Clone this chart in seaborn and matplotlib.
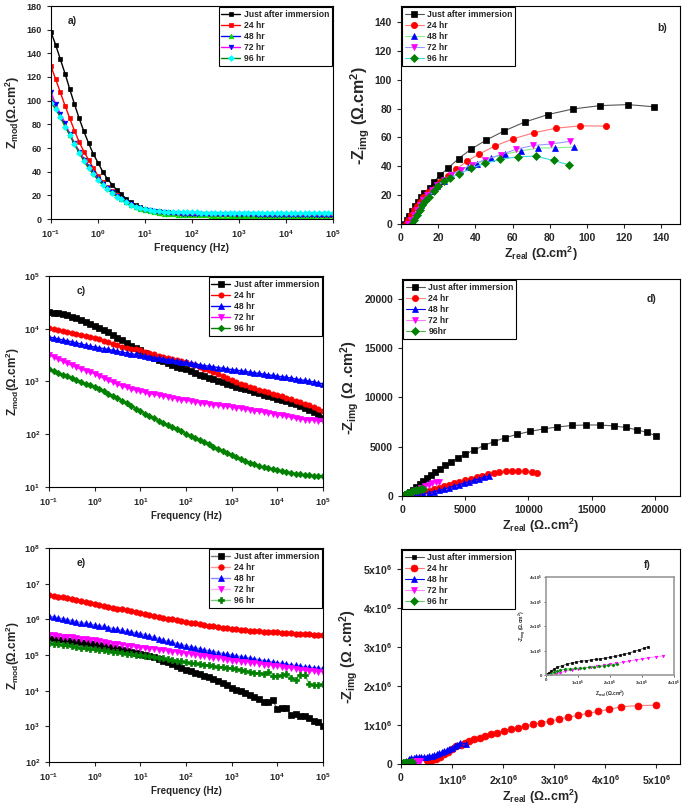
import matplotlib
matplotlib.use('Agg')
import matplotlib.pyplot as plt
import numpy as np
import seaborn as sns
from matplotlib.ticker import FuncFormatter, NullLocator

sns.set_theme(style='ticks')
plt.rcParams['font.family'] = ['Liberation Sans', 'DejaVu Sans']
plt.rcParams['font.weight'] = 'bold'
plt.rcParams['axes.labelweight'] = 'bold'
plt.rcParams['mathtext.fontset'] = 'custom'
plt.rcParams['mathtext.rm'] = 'Liberation Sans:bold'
plt.rcParams['mathtext.bf'] = 'Liberation Sans:bold'
plt.rcParams['mathtext.it'] = 'Liberation Sans:bold'
plt.rcParams['mathtext.default'] = 'bf'

labels = ['Just after immersion', '24 hr', '48 hr', '72 hr', '96 hr']
labels_d = ['Just after immersion', '24 hr', '48 hr', '72 hr', '96hr']

freq = [0.1, 0.126, 0.158, 0.2, 0.251, 0.316, 0.398, 0.501, 0.631, 0.794,
        1, 1.26, 1.58, 2, 2.51, 3.16, 3.98, 5.01, 6.31, 7.94,
        10, 12.6, 15.8, 20, 25.1, 31.6, 39.8, 50.1, 63.1, 79.4,
        100, 126, 158, 200, 251, 316, 398, 501, 631, 794,
        1000, 1260, 1580, 2000, 2510, 3160, 3980, 5010, 6310, 7940,
        10000, 12600, 15800, 20000, 25100, 31600, 39800, 50100, 63100, 79400,
        100000]
freq_ticks = [0.1, 1, 10, 100, 1000, 10000, 100000]

# panel a: |Z| (linear)
a_just = [158, 147, 135, 122.6, 109.6, 97, 85, 74, 64, 55,
          47.6, 40, 34, 29, 24.5, 21, 17, 14, 12, 10.4,
          8.7, 7.8, 7, 6.5, 6, 5.5, 5, 4.8, 4.6, 4.4,
          4.2, 4.1, 4, 4, 4, 3.9, 3.9, 3.9, 3.9, 3.8,
          3.8, 3.8, 3.8, 3.7, 3.7, 3.7, 3.7, 3.6, 3.6, 3.6,
          3.6, 3.6, 3.5, 3.5, 3.5, 3.5, 3.5, 3.4, 3.4, 3.4,
          3.4]
a_24 = [129, 118, 107, 95.5, 85, 74.6, 65, 57, 50, 43,
        36.6, 31.5, 27, 23.5, 20, 17, 14.5, 12.5, 10.5, 9.2,
        8, 7.2, 6.5, 6, 5.5, 5.2, 5, 4.8, 4.6, 4.4,
        4.3, 4.2, 4.1, 4.1, 4, 4, 4, 3.9, 3.9, 3.9,
        3.9, 3.9, 3.8, 3.8, 3.8, 3.8, 3.8, 3.7, 3.7, 3.7,
        3.7, 3.7, 3.7, 3.6, 3.6, 3.6, 3.6, 3.6, 3.6, 3.6,
        3.6]
a_48 = [103, 95, 87, 79, 71, 64, 57, 51, 45, 40,
        35, 30.5, 26.5, 23, 19.5, 16.5, 14, 12, 10, 8.7,
        7.5, 6.5, 5.5, 5, 4.5, 4.2, 4, 3.7, 3.5, 3.3,
        3.2, 3.1, 3, 3, 2.9, 2.9, 2.8, 2.8, 2.7, 2.7,
        2.6, 2.6, 2.5, 2.5, 2.5, 2.5, 2.4, 2.4, 2.4, 2.4,
        2.3, 2.3, 2.3, 2.2, 2.2, 2.2, 2.2, 2.1, 2.1, 2.1,
        2.1]
a_72 = [107, 97, 89, 81, 72, 64, 57, 50, 44, 38.6,
        34, 29.5, 26, 22.5, 19.5, 17, 14.5, 12.5, 10.5, 9.2,
        8, 7.2, 6.5, 6, 5.5, 5.2, 5, 4.8, 4.6, 4.5,
        4.4, 4.3, 4.2, 4.2, 4.1, 4.1, 4, 4, 4, 4,
        3.9, 3.9, 3.9, 3.9, 3.8, 3.8, 3.8, 3.8, 3.8, 3.8,
        3.7, 3.7, 3.7, 3.7, 3.7, 3.7, 3.6, 3.6, 3.6, 3.6,
        3.6]
a_96 = [98, 93, 86, 78, 71, 63, 56, 49, 43, 38,
        33, 29, 25, 22, 19, 16.5, 14, 12, 10.5, 9.5,
        8.5, 7.7, 7, 6.6, 6.3, 6.1, 6, 5.8, 5.7, 5.6,
        5.5, 5.5, 5.4, 5.4, 5.3, 5.3, 5.2, 5.2, 5.2, 5.1,
        5.1, 5.1, 5.1, 5, 5, 5, 5, 5, 5, 5,
        5, 5, 5, 4.9, 4.9, 4.9, 4.9, 4.9, 4.9, 4.9,
        4.9]

# panel b: Nyquist
b_just_x = [2, 3, 4.5, 6, 7.5, 9, 10.5, 12.5, 15.5, 17.5, 21, 25.5, 31, 37.5, 45.6, 55.5, 66.5, 79, 92.5, 107, 122, 136]
b_just_y = [0, 2.5, 5.5, 9, 12.5, 15.5, 18.5, 21.5, 24.7, 29, 33.8, 39, 45.3, 51.7, 58, 64.5, 70.6, 75.8, 79.7, 82, 82.7, 81.2]
b_24_x = [2.5, 4, 5.5, 7, 8.5, 10, 12, 14.5, 18, 21, 25, 29.8, 35.5, 42, 50.7, 60.4, 71.4, 83.6, 96.4, 110]
b_24_y = [0, 3, 6, 9.5, 12.5, 15.5, 19, 22, 24.4, 28.8, 33.2, 38, 43.6, 48.4, 54.2, 59, 63.2, 66.4, 68, 67.8]
b_48_x = [5, 6, 7.5, 9, 10.5, 12, 14, 16.5, 19.5, 23, 27, 31.5, 36, 40.9, 48.2, 56, 64.5, 73.5, 83, 92.9]
b_48_y = [0, 3, 6.5, 10, 13, 16, 19.5, 23, 26.5, 30, 34, 37.5, 39.5, 41.7, 45.7, 48.4, 50.7, 52.5, 52.8, 53.3]
b_72_x = [4, 5.5, 7, 8.5, 10, 12, 14, 16.5, 19.5, 23, 27, 32, 38, 45, 53.6, 61.8, 71, 80.5, 90.7]
b_72_y = [0, 3, 6.5, 10, 13, 16.5, 20, 23.5, 27, 30.5, 34, 37.5, 41, 44.5, 48, 51.7, 54.4, 55.4, 57.2]
b_96_x = [6, 7, 8.5, 10, 11.5, 13, 15, 17.5, 20, 23, 26.5, 31.2, 37.7, 45, 53.2, 62.7, 72.5, 82, 90.2]
b_96_y = [0, 3, 6.5, 9.5, 13, 16, 19, 23, 26.5, 30, 32, 34.8, 38.5, 42, 44.7, 46.6, 47, 44, 41]

# panel c: |Z| (log)
c_just = [21000, 20300, 19500, 18800, 18000, 17000, 16000, 14800, 13500, 12500,
          11500, 10500, 9500, 8600, 7700, 6800, 6000, 5400, 4800, 4300,
          3900, 3500, 3100, 2850, 2600, 2400, 2200, 2050, 1900, 1800,
          1700, 1570, 1450, 1350, 1250, 1170, 1100, 1030, 960, 900,
          850, 800, 760, 720, 680, 640, 600, 565, 530, 500,
          470, 445, 420, 395, 370, 345, 320, 290, 260, 230,
          200]
c_24 = [10300, 9900, 9500, 9150, 8800, 8450, 8100, 7750, 7400, 7050,
        6700, 6300, 5900, 5550, 5200, 4900, 4600, 4400, 4200, 4050,
        3900, 3700, 3500, 3300, 3100, 2950, 2800, 2670, 2550, 2420,
        2300, 2180, 2050, 1900, 1750, 1620, 1500, 1370, 1250, 1150,
        1050, 970, 900, 840, 780, 740, 700, 660, 620, 590,
        560, 525, 490, 460, 430, 405, 380, 355, 330, 305,
        280]
c_48 = [7000, 6700, 6400, 6150, 5900, 5650, 5400, 5150, 4900, 4700,
        4500, 4350, 4200, 4050, 3900, 3750, 3600, 3470, 3350, 3250,
        3150, 3050, 2950, 2850, 2750, 2670, 2600, 2520, 2450, 2370,
        2300, 2220, 2150, 2070, 2000, 1950, 1900, 1840, 1780, 1730,
        1680, 1640, 1600, 1550, 1500, 1460, 1420, 1380, 1340, 1300,
        1260, 1230, 1200, 1160, 1120, 1080, 1050, 1010, 980, 940,
        900]
c_72 = [3200, 2900, 2650, 2420, 2200, 2020, 1850, 1720, 1600, 1500,
        1400, 1270, 1150, 1050, 960, 890, 820, 770, 720, 685,
        650, 620, 590, 570, 550, 530, 510, 490, 470, 455,
        440, 425, 410, 397, 385, 375, 365, 355, 345, 337,
        330, 320, 310, 300, 290, 280, 270, 262, 255, 245,
        236, 228, 220, 210, 200, 195, 190, 187, 185, 182,
        180]
c_96 = [1700, 1570, 1450, 1350, 1250, 1150, 1050, 970, 900, 840,
        790, 720, 650, 590, 530, 480, 430, 385, 340, 305,
        270, 245, 220, 200, 180, 165, 150, 137, 125, 113,
        102, 93, 85, 77, 70, 64, 58, 53, 48, 44,
        41, 37.5, 34, 31.5, 29, 27, 25, 23.5, 22.5, 21.5,
        21, 20.2, 19.5, 18.7, 18, 17.5, 17, 16.7, 16.5, 16.2,
        16]

# panel d: Nyquist
d_just_x = [200, 400, 600, 850, 1100, 1400, 1700, 2000, 2300, 2600, 3000, 3400, 3900, 4400, 5000, 5700,
            6450, 7250, 8150, 9100, 10150, 11200, 12300, 13450, 14550, 15700, 16750, 17700, 18600, 19400, 20100]
d_just_y = [80, 220, 420, 650, 900, 1200, 1500, 1800, 2100, 2400, 2750, 3100, 3450, 3850, 4250, 4650,
            5100, 5500, 5900, 6250, 6550, 6800, 7000, 7150, 7200, 7200, 7100, 6950, 6700, 6450, 6100]
d_24_x = [200, 500, 900, 1300, 1700, 2100, 2500, 2900, 3300, 3700, 4100, 4550, 5000, 5450, 5900, 6350,
          6800, 7250, 7700, 8200, 8700, 9200, 9750, 10250, 10650]
d_24_y = [20, 80, 170, 280, 400, 550, 700, 850, 1000, 1150, 1300, 1450, 1600, 1750, 1900, 2050,
          2200, 2300, 2400, 2500, 2550, 2550, 2500, 2400, 2300]
d_48_x = [200, 500, 900, 1300, 1700, 2100, 2500, 2900, 3300, 3700, 4100, 4500, 4900, 5300, 5700, 6100, 6500, 6900]
d_48_y = [10, 30, 80, 150, 230, 330, 440, 560, 700, 850, 1000, 1150, 1300, 1450, 1600, 1750, 1900, 2000]
d_72_x = [150, 350, 600, 900, 1200, 1500, 1800, 2100, 2400, 2700, 2950]
d_72_y = [30, 120, 250, 420, 600, 800, 1000, 1150, 1300, 1400, 1450]
d_96_x = [100, 200, 350, 500, 700, 900, 1100, 1300, 1500, 1700]
d_96_y = [30, 100, 200, 300, 400, 490, 570, 640, 700, 750]

# panel e: |Z| (log)
e_just = [3.2e5, 3.05e5, 2.9e5, 2.75e5, 2.6e5, 2.5e5, 2.4e5, 2.3e5, 2.2e5, 2.12e5,
          2.05e5, 1.92e5, 1.8e5, 1.7e5, 1.6e5, 1.5e5, 1.4e5, 1.32e5, 1.25e5, 1.17e5,
          1.1e5, 1.02e5, 9.5e4, 8.6e4, 7.8e4, 7e4, 6.3e4, 5.6e4, 5e4, 4.4e4,
          3.8e4, 3.5e4, 3.2e4, 2.9e4, 2.6e4, 2.35e4, 2.1e4, 1.85e4, 1.6e4, 1.4e4,
          1.2e4, 1.07e4, 9500, 8500, 7500, 6600, 5800, 4900, 4800, 5500,
          3000, 3300, 3200, 2100, 2200, 2000, 1900, 1700, 1400, 1300,
          1000]
e_24 = [4.8e6, 4.55e6, 4.3e6, 4.1e6, 3.9e6, 3.65e6, 3.4e6, 3.2e6, 3.0e6, 2.8e6,
        2.65e6, 2.5e6, 2.35e6, 2.22e6, 2.1e6, 2e6, 1.9e6, 1.8e6, 1.7e6, 1.62e6,
        1.55e6, 1.45e6, 1.35e6, 1.27e6, 1.2e6, 1.12e6, 1.05e6, 1e6, 9.5e5, 9e5,
        8.5e5, 8.1e5, 7.7e5, 7.3e5, 7e5, 6.7e5, 6.4e5, 6.1e5, 5.9e5, 5.7e5,
        5.5e5, 5.3e5, 5.1e5, 4.95e5, 4.8e5, 4.7e5, 4.6e5, 4.5e5, 4.4e5, 4.35e5,
        4.3e5, 4.2e5, 4.1e5, 4.05e5, 4.0e5, 3.95e5, 3.9e5, 3.8e5, 3.7e5, 3.65e5,
        3.6e5]
e_48 = [1.25e6, 1.17e6, 1.1e6, 1.04e6, 9.8e5, 9.2e5, 8.6e5, 8.1e5, 7.7e5, 7.3e5,
        7e5, 6.6e5, 6.3e5, 5.9e5, 5.5e5, 5.2e5, 4.9e5, 4.6e5, 4.4e5, 4.2e5,
        4e5, 3.7e5, 3.4e5, 3.15e5, 2.9e5, 2.65e5, 2.4e5, 2.25e5, 2.1e5, 1.95e5,
        1.8e5, 1.7e5, 1.6e5, 1.5e5, 1.4e5, 1.32e5, 1.25e5, 1.17e5, 1.1e5, 1.05e5,
        1e5, 9.5e4, 9e4, 8.6e4, 8.2e4, 7.8e4, 7.4e4, 7e4, 6.7e4, 6.4e4,
        6.1e4, 5.8e4, 5.6e4, 5.3e4, 5.1e4, 4.9e4, 4.7e4, 4.55e4, 4.4e4, 4.3e4,
        4.2e4]
e_72 = [3.7e5, 3.55e5, 3.4e5, 3.3e5, 3.2e5, 3.1e5, 3e5, 2.9e5, 2.8e5, 2.7e5,
        2.6e5, 2.47e5, 2.35e5, 2.22e5, 2.1e5, 2e5, 1.9e5, 1.82e5, 1.75e5, 1.67e5,
        1.6e5, 1.55e5, 1.5e5, 1.45e5, 1.4e5, 1.35e5, 1.3e5, 1.25e5, 1.2e5, 1.15e5,
        1.1e5, 1.05e5, 1e5, 9.6e4, 9.2e4, 8.8e4, 8.4e4, 8e4, 7.7e4, 7.3e4,
        7e4, 6.7e4, 6.5e4, 6.2e4, 6e4, 5.8e4, 5.6e4, 5.4e4, 5.2e4, 5e4,
        4.8e4, 4.6e4, 4.4e4, 4.2e4, 4.1e4, 3.9e4, 3.8e4, 3.6e4, 3.5e4, 3.4e4,
        3.3e4]
e_96 = [2.2e5, 2.1e5, 2e5, 1.92e5, 1.85e5, 1.77e5, 1.7e5, 1.62e5, 1.55e5, 1.5e5,
        1.45e5, 1.4e5, 1.35e5, 1.3e5, 1.25e5, 1.2e5, 1.15e5, 1.1e5, 1.07e5, 1.03e5,
        1e5, 9.6e4, 9.2e4, 8.8e4, 8.5e4, 8.1e4, 7.7e4, 7.3e4, 7e4, 6.6e4,
        6.3e4, 6e4, 5.8e4, 5.5e4, 5.3e4, 5.1e4, 4.9e4, 4.7e4, 4.5e4, 4.35e4,
        4.2e4, 4e4, 3.8e4, 3.6e4, 3.4e4, 3.2e4, 3.1e4, 3e4, 3.3e4, 2.5e4,
        2.5e4, 2.7e4, 2.9e4, 2.2e4, 2e4, 2.8e4, 2.8e4, 1.5e4, 1.4e4, 1.45e4,
        1.5e4]

# panel f: Nyquist (x1e6) and inset (x1e5)
f_24_x = [0.5, 0.53, 0.6, 0.68, 0.76, 0.84, 0.92, 1.0, 1.08, 1.17, 1.25, 1.34, 1.44, 1.54, 1.65, 1.76, 1.88,
          2.01, 2.15, 2.29, 2.44, 2.59, 2.75, 2.92, 3.1, 3.28, 3.47, 3.67, 3.86, 4.07, 4.32, 4.65, 5.0]
f_24_y = [0.09, 0.08, 0.1, 0.13, 0.18, 0.25, 0.32, 0.39, 0.45, 0.5, 0.55, 0.59, 0.63, 0.67, 0.71, 0.76, 0.8,
          0.85, 0.89, 0.93, 0.97, 1.02, 1.06, 1.1, 1.15, 1.2, 1.25, 1.3, 1.35, 1.4, 1.47, 1.5, 1.51]
f_48_x = [0.05, 0.1, 0.15, 0.2, 0.25, 0.3, 0.35, 0.4, 0.45, 0.5, 0.55, 0.6, 0.65, 0.7, 0.75, 0.8, 0.85, 0.9,
          0.95, 1.0, 1.05, 1.1, 1.15, 1.27]
f_48_y = [0.03, 0.08, 0.12, 0.15, 0.16, 0.17, 0.175, 0.18, 0.185, 0.19, 0.2, 0.21, 0.23, 0.25, 0.27, 0.3, 0.33,
          0.36, 0.39, 0.42, 0.46, 0.5, 0.55, 0.52]
f_just_x = [0.03, 0.08, 0.15, 0.25, 0.35, 0.5, 0.65, 0.8, 0.95, 1.1, 1.25, 1.4, 1.55, 1.7, 1.85, 2.0, 2.15,
            2.3, 2.45, 2.6, 2.75, 2.9, 3.05, 3.2]
f_just_y = [0.03, 0.08, 0.15, 0.24, 0.31, 0.38, 0.44, 0.49, 0.53, 0.56, 0.59, 0.61, 0.64, 0.66, 0.69, 0.72,
            0.76, 0.8, 0.85, 0.9, 0.96, 1.02, 1.09, 1.16]
f_72_x = [0.3, 0.45, 0.6, 0.8, 1.0, 1.2, 1.4, 1.6, 1.8, 2.0, 2.2, 2.4, 2.6, 2.8, 3.0, 3.2, 3.45, 3.66]
f_72_y = [0.04, 0.1, 0.16, 0.22, 0.26, 0.29, 0.32, 0.35, 0.39, 0.43, 0.47, 0.52, 0.57, 0.62, 0.66, 0.7, 0.75, 0.78]
f_96_x = [0.15, 0.25, 0.35, 0.45, 0.6, 0.75, 0.9, 1.05, 1.2, 1.35, 1.5, 1.65, 1.8, 1.95, 2.1, 2.22]
f_96_y = [0.05, 0.12, 0.17, 0.21, 0.24, 0.26, 0.27, 0.28, 0.3, 0.31, 0.33, 0.35, 0.37, 0.39, 0.41, 0.43]


def draw(ax, x, y, line, mcol, marker, ms, lab=None, lw=1.0):
    sns.lineplot(x=x, y=y, ax=ax, sort=False, estimator=None, color=line, linewidth=lw,
                 marker=marker, markersize=ms, markerfacecolor=mcol, markeredgecolor=mcol,
                 markeredgewidth=0.5, label=lab, legend=False)


def style(ax, tick_size):
    ax.tick_params(axis='both', which='major', direction='out', length=3, width=0.8,
                   labelsize=tick_size, top=False, right=False)
    ax.tick_params(which='minor', length=0)
    for s in ax.spines.values():
        s.set_color('black')
        s.set_linewidth(0.8)


def legend(ax, loc, fs=6.2):
    leg = ax.legend(loc=loc, fontsize=fs, frameon=True, fancybox=False, edgecolor='black',
                    framealpha=1, borderpad=0.3, labelspacing=0.25, handlelength=2.2,
                    handletextpad=0.4, borderaxespad=0.15)
    leg.get_frame().set_linewidth(0.8)
    for t in leg.get_texts():
        t.set_fontweight('bold')


def sci(v, pos):
    if v == 0:
        return '0'
    p = int(np.floor(np.log10(abs(v))))
    return r'$%dx10^{%d}$' % (round(v / 10 ** p), p)


def log_axes(ax, yticks=None):
    ax.set_xscale('log')
    ax.set_xlim(0.1, 1e5)
    ax.set_xticks(freq_ticks)
    ax.xaxis.set_minor_locator(NullLocator())
    if yticks is not None:
        ax.set_yscale('log')
        ax.set_ylim(yticks[0], yticks[-1])
        ax.set_yticks(yticks)
        ax.yaxis.set_minor_locator(NullLocator())


fig = plt.figure(figsize=(6.85, 8.05), dpi=100)
W, H = 685, 805


def box(l, t, r, b):
    return [l / W, 1 - b / H, (r - l) / W, (b - t) / H]


zlabel = r'Z$_{mod}$($\Omega$.cm$^2$)'

# ---- a)
ax = fig.add_axes(box(51, 6, 333, 219))
draw(ax, freq, a_just, 'black', 'black', 's', 3, labels[0])
draw(ax, freq, a_24, 'red', 'red', 's', 3, labels[1])
draw(ax, freq, a_48, 'blue', '#00dd00', '^', 3.3, labels[2])
draw(ax, freq, a_72, 'magenta', 'blue', 'v', 3.3, labels[3])
draw(ax, freq, a_96, 'green', 'cyan', 'D', 3, labels[4])
log_axes(ax)
ax.set_ylim(0, 180)
ax.set_yticks(range(0, 181, 20))
style(ax, 6.5)
ax.set_xlabel('Frequency (Hz)', fontsize=7.5, labelpad=2)
ax.set_ylabel(zlabel, fontsize=9)
ax.yaxis.set_label_coords(-0.104, 0.5)
ax.text(0.06, 0.93, 'a)', transform=ax.transAxes, fontsize=7.5, fontweight='bold', va='center')
legend(ax, 'upper right')

# ---- b)
ax = fig.add_axes(box(401, 6, 680, 224))
draw(ax, b_just_x, b_just_y, '#555555', 'black', 's', 4, labels[0], 0.8)
draw(ax, b_24_x, b_24_y, '#ff7777', 'red', 'o', 4.5, labels[1], 0.8)
draw(ax, b_48_x, b_48_y, '#88ee88', 'blue', '^', 4.5, labels[2], 0.8)
draw(ax, b_72_x, b_72_y, '#9999ff', 'magenta', 'v', 4.5, labels[3], 0.8)
draw(ax, b_96_x, b_96_y, '#33dddd', 'green', 'D', 4, labels[4], 0.8)
ax.set_xlim(0, 150)
ax.set_ylim(0, 151)
ax.set_xticks(range(0, 141, 20))
ax.set_yticks(range(0, 141, 20))
style(ax, 7.5)
ax.set_xlabel(r'Z$_{real}$ ($\Omega$.cm$^2$)', fontsize=9, labelpad=1)
ax.set_ylabel(r'-Z$_{img}$ ($\Omega$.cm$^2$)', fontsize=11.5, labelpad=2)
ax.text(0.92, 0.9, 'b)', transform=ax.transAxes, fontsize=7.5, fontweight='bold', va='center')
legend(ax, 'upper left')

# ---- c)
ax = fig.add_axes(box(49, 276, 323, 487))
draw(ax, freq, c_just, 'black', 'black', 's', 3.8, labels[0])
draw(ax, freq, c_24, 'red', 'red', 'o', 3.8, labels[1])
draw(ax, freq, c_48, 'blue', 'blue', '^', 3.8, labels[2])
draw(ax, freq, c_72, 'magenta', 'magenta', 'v', 3.8, labels[3])
draw(ax, freq, c_96, 'green', 'green', 'D', 3.3, labels[4])
log_axes(ax, [10, 100, 1000, 10000, 100000])
style(ax, 6.5)
ax.set_xlabel('Frequency (Hz)', fontsize=7, labelpad=2)
ax.set_ylabel(zlabel, fontsize=8.5)
ax.yaxis.set_label_coords(-0.1, 0.5)
ax.text(0.1, 0.93, 'c)', transform=ax.transAxes, fontsize=7.5, fontweight='bold', va='center')
legend(ax, 'upper right')

# ---- d)
ax = fig.add_axes(box(402, 279, 680, 496))
draw(ax, d_just_x, d_just_y, '#555555', 'black', 's', 4, labels_d[0], 0.8)
draw(ax, d_24_x, d_24_y, '#ff8888', 'red', 'o', 4.5, labels_d[1], 0.8)
draw(ax, d_48_x, d_48_y, 'blue', 'blue', '^', 4.5, labels_d[2], 0.8)
draw(ax, d_72_x, d_72_y, '#ff77ff', 'magenta', 'v', 4.5, labels_d[3], 0.8)
draw(ax, d_96_x, d_96_y, '#55bb55', 'green', 'D', 4, labels_d[4], 0.8)
ax.set_xlim(0, 22000)
ax.set_ylim(0, 22000)
ax.set_xticks(range(0, 20001, 5000))
ax.set_yticks(range(0, 20001, 5000))
style(ax, 7.5)
ax.set_xlabel(r'Z$_{real}$ ($\Omega$..cm$^2$)', fontsize=9, labelpad=1)
ax.set_ylabel(r'-Z$_{img}$ ($\Omega$ .cm$^2$)', fontsize=10.5, labelpad=2)
ax.text(0.88, 0.91, 'd)', transform=ax.transAxes, fontsize=7.5, fontweight='bold', va='center')
legend(ax, 'upper left')

# ---- e)
ax = fig.add_axes(box(49, 548, 323, 762))
draw(ax, freq, e_just, '#777777', 'black', 's', 4, labels[0])
draw(ax, freq, e_24, '#ff9999', 'red', 'o', 4, labels[1])
draw(ax, freq, e_48, '#8888ff', 'blue', '^', 4, labels[2])
draw(ax, freq, e_72, '#ffaaff', 'magenta', 'v', 4, labels[3])
draw(ax, freq, e_96, '#77cc77', 'green', 'P', 4, labels[4])
log_axes(ax, [1e2, 1e3, 1e4, 1e5, 1e6, 1e7, 1e8])
style(ax, 6.5)
ax.set_xlabel('Frequency (Hz)', fontsize=7, labelpad=2)
ax.set_ylabel(zlabel, fontsize=8.5)
ax.yaxis.set_label_coords(-0.1, 0.5)
ax.text(0.1, 0.93, 'e)', transform=ax.transAxes, fontsize=7.5, fontweight='bold', va='center')
legend(ax, 'upper right')

# ---- f)
ax = fig.add_axes(box(401, 549, 680, 764))
fj_x, fj_y = np.array(f_just_x) * 1e5, np.array(f_just_y) * 1e5
f72_x, f72_y = np.array(f_72_x) * 1e5, np.array(f_72_y) * 1e5
f96_x, f96_y = np.array(f_96_x) * 1e5, np.array(f_96_y) * 1e5
draw(ax, fj_x, fj_y, '#555555', 'black', 's', 3.5, labels[0], 0.8)
draw(ax, np.array(f_24_x) * 1e6, np.array(f_24_y) * 1e6, '#ff7777', 'red', 'o', 5, labels[1], 0.8)
draw(ax, np.array(f_48_x) * 1e6, np.array(f_48_y) * 1e6, 'blue', 'blue', '^', 4.5, labels[2], 0.8)
draw(ax, f72_x, f72_y, '#ff88ff', 'magenta', 'v', 4.5, labels[3], 0.8)
draw(ax, f96_x, f96_y, '#66cc66', 'green', 'D', 4.5, labels[4], 0.8)
ax.set_xlim(0, 5.47e6)
ax.set_ylim(0, 5.52e6)
ax.set_xticks(np.arange(0, 5.1e6, 1e6))
ax.set_yticks(np.arange(0, 5.1e6, 1e6))
ax.xaxis.set_major_formatter(FuncFormatter(sci))
ax.yaxis.set_major_formatter(FuncFormatter(sci))
style(ax, 7.5)
ax.set_xlabel(r'Z$_{real}$ ($\Omega$..cm$^2$)', fontsize=9, labelpad=1)
ax.set_ylabel(r'-Z$_{img}$ ($\Omega$ .cm$^2$)', fontsize=10.5, labelpad=2)
ax.text(0.87, 0.926, 'f)', transform=ax.transAxes, fontsize=7.5, fontweight='bold', va='center')
legend(ax, 'upper left')

# inset
ins = fig.add_axes(box(546, 577, 674, 675))
draw(ins, fj_x, fj_y, '#555555', 'black', 's', 1.5, None, 0.6)
draw(ins, f72_x, f72_y, '#ff88ff', 'magenta', 'v', 1.8, None, 0.6)
draw(ins, f96_x, f96_y, '#66cc66', 'green', 'D', 1.5, None, 0.6)
ins.set_xlim(0, 4e5)
ins.set_ylim(0, 4e5)
ins.set_xticks(np.arange(0, 4.1e5, 1e5))
ins.set_yticks(np.arange(0, 4.1e5, 1e5))
ins.xaxis.set_major_formatter(FuncFormatter(sci))
ins.yaxis.set_major_formatter(FuncFormatter(sci))
ins.tick_params(labelsize=3.2, length=1.5, width=0.5, pad=1)
for s in ins.spines.values():
    s.set_color('#999999')
    s.set_linewidth(1.2)
ins.set_xlabel(r'Z$_{real}$ ($\Omega$.cm$^2$)', fontsize=3.5, labelpad=1)
ins.set_ylabel(r'-Z$_{img}$ ($\Omega$.cm$^2$)', fontsize=3.5, labelpad=1)

fig.savefig('out.png', dpi=100)
